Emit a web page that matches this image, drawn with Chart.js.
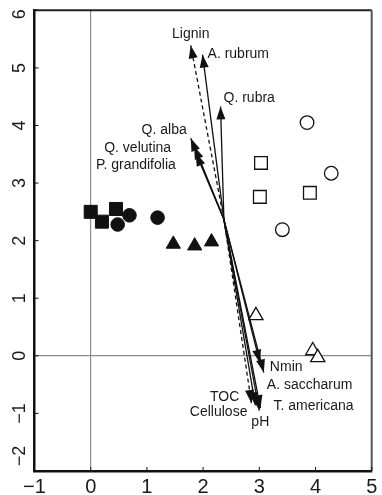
<!DOCTYPE html>
<html>
<head>
<meta charset="utf-8">
<script src="https://cdn.jsdelivr.net/npm/chart.js@4.4.1/dist/chart.umd.min.js"></script>
<style>
  html, body { margin: 0; padding: 0; background: #fff; }
  #wrap { width: 382px; height: 495px; position: relative; }
</style>
</head>
<body>
<div id="wrap"><canvas id="c"></canvas></div>
<script>
// Ordination biplot: site scores by stand type plus environmental / species vectors

// Axis ticks
const xTicks = [-1, 0, 1, 2, 3, 4, 5];
const yTicks = [-2, -1, 0, 1, 2, 3, 4, 5, 6];

// Site scores
const filledSquareX = [0.00, 0.20, 0.45];
const filledSquareY = [2.50, 2.33, 2.55];
const filledCircleX = [0.48, 0.69, 1.19];
const filledCircleY = [2.28, 2.44, 2.40];
const filledTriangleX = [1.47, 1.85, 2.15];
const filledTriangleY = [1.94, 1.91, 1.98];
const openSquareX = [3.03, 3.01, 3.90];
const openSquareY = [3.35, 2.76, 2.83];
const openCircleX = [3.85, 4.28, 3.41];
const openCircleY = [4.05, 3.17, 2.19];
const openTriangleX = [2.94, 3.95, 4.04];
const openTriangleY = [0.70, 0.09, -0.03];

// Vectors (all start from a common origin)
const vectorOrigin = [2.37, 2.37];
const vectorNames = ['Lignin', 'A. rubrum', 'Q. rubra', 'Q. alba', 'Q. velutina', 'P. grandifolia',
                     'Nmin', 'A. saccharum', 'T. americana', 'TOC', 'Cellulose', 'pH'];
const vectorX = [1.78, 1.99, 2.31, 1.78, 1.84, 1.87, 3.01, 3.08, 3.02, 2.93, 2.86, 3.00];
const vectorY = [5.39, 5.23, 4.33, 3.78, 3.64, 3.52, -0.12, -0.29, -0.91, -0.86, -0.82, -0.95];
const dashedVectors = ['Lignin', 'Cellulose'];

// Label placement relative to each arrow tip (pixels)
const labelLayout = {
  'Lignin':         { dx: 0,   dy: -11, align: 'center' },
  'A. rubrum':      { dx: 5,   dy: -1,  align: 'left' },
  'Q. rubra':       { dx: 3,   dy: -8,  align: 'left' },
  'Q. alba':        { dx: -4,  dy: -8,  align: 'right' },
  'Q. velutina':    { dx: -23, dy: 2,   align: 'right' },
  'P. grandifolia': { dx: -20, dy: 12,  align: 'right' },
  'Nmin':           { dx: 10,  dy: 4,   align: 'left' },
  'A. saccharum':   { dx: 3,   dy: 13,  align: 'left' },
  'T. americana':   { dx: 13,  dy: -2,  align: 'left' },
  'TOC':            { dx: -16, dy: -8,  align: 'right' },
  'Cellulose':      { dx: -4,  dy: 9,   align: 'right' },
  'pH':             { dx: 1,   dy: 12,  align: 'center' }
};

const FONT = '"Liberation Sans", Arial, Helvetica, sans-serif';
const INK = '#111';

function pts(xs, ys) { return xs.map((x, i) => ({ x: x, y: ys[i] })); }

function markerSet(xs, ys, style, filled, radius) {
  return {
    type: 'scatter',
    data: pts(xs, ys),
    pointStyle: style,
    pointRadius: radius,
    pointHoverRadius: radius,
    pointBackgroundColor: filled ? INK : '#fff',
    pointBorderColor: INK,
    pointBorderWidth: filled ? 1 : 1.3,
    order: 1
  };
}

const vectorSets = vectorNames.map((name, i) => ({
  type: 'line',
  label: name,
  data: [{ x: vectorOrigin[0], y: vectorOrigin[1] }, { x: vectorX[i], y: vectorY[i] }],
  borderColor: INK,
  borderWidth: 1.3,
  borderDash: dashedVectors.includes(name) ? [4, 3] : [],
  pointRadius: 0,
  fill: false,
  tension: 0,
  order: 2
}));

const biplotDecor = {
  id: 'biplotDecor',
  afterDatasetsDraw(chart) {
    const ctx = chart.ctx;
    const xs = chart.scales.x, ys = chart.scales.y;
    const ox = xs.getPixelForValue(vectorOrigin[0]);
    const oy = ys.getPixelForValue(vectorOrigin[1]);
    ctx.save();
    // arrow heads
    vectorNames.forEach((name, i) => {
      const tx = xs.getPixelForValue(vectorX[i]);
      const ty = ys.getPixelForValue(vectorY[i]);
      const a = Math.atan2(ty - oy, tx - ox);
      const len = 13, hw = 4.5;
      const bx = tx - Math.cos(a) * len, by = ty - Math.sin(a) * len;
      ctx.beginPath();
      ctx.moveTo(tx, ty);
      ctx.lineTo(bx + Math.sin(a) * hw, by - Math.cos(a) * hw);
      ctx.lineTo(bx - Math.sin(a) * hw, by + Math.cos(a) * hw);
      ctx.closePath();
      ctx.fillStyle = INK;
      ctx.fill();
    });
    // vector labels
    ctx.font = '14px ' + FONT;
    ctx.fillStyle = '#1a1a1a';
    ctx.textBaseline = 'middle';
    vectorNames.forEach((name, i) => {
      const L = labelLayout[name];
      const tx = xs.getPixelForValue(vectorX[i]);
      const ty = ys.getPixelForValue(vectorY[i]);
      ctx.textAlign = L.align;
      ctx.fillText(name, tx + L.dx, ty + L.dy);
    });
    ctx.restore();
  },
  afterDraw(chart) {
    const ctx = chart.ctx;
    const area = chart.chartArea;
    const xs = chart.scales.x, ys = chart.scales.y;
    ctx.save();
    // top and right frame
    ctx.strokeStyle = '#222';
    ctx.lineWidth = 2;
    ctx.beginPath();
    ctx.moveTo(area.left, area.top);
    ctx.lineTo(area.right, area.top);
    ctx.stroke();
    ctx.strokeStyle = '#555';
    ctx.beginPath();
    ctx.moveTo(area.right, area.top);
    ctx.lineTo(area.right, area.bottom);
    ctx.stroke();
    // inward tick marks
    ctx.strokeStyle = INK;
    ctx.lineWidth = 1;
    xTicks.forEach(v => {
      const px = xs.getPixelForValue(v);
      ctx.beginPath();
      ctx.moveTo(px, area.bottom);
      ctx.lineTo(px, area.bottom - 4);
      ctx.stroke();
    });
    yTicks.forEach(v => {
      const py = ys.getPixelForValue(v);
      ctx.beginPath();
      ctx.moveTo(area.left, py);
      ctx.lineTo(area.left + 4, py);
      ctx.stroke();
    });
    // tick labels
    ctx.fillStyle = '#1a1a1a';
    ctx.font = '20px ' + FONT;
    ctx.textAlign = 'center';
    ctx.textBaseline = 'alphabetic';
    xTicks.forEach(v => {
      const px = xs.getPixelForValue(v);
      ctx.fillText(String(v).replace('-', '\u2212'), px, 493);
    });
    ctx.font = '18px ' + FONT;
    yTicks.forEach(v => {
      let py = ys.getPixelForValue(v);
      py = Math.min(Math.max(py, area.top + 4), area.bottom - 15);
      ctx.save();
      ctx.translate(25, py);
      ctx.rotate(-Math.PI / 2);
      ctx.fillText(String(v).replace('-', '\u2212'), 0, 0);
      ctx.restore();
    });
    ctx.restore();
  }
};

const zeroGrid = (c) => (c.tick && c.tick.value === 0) ? '#8c8c8c' : 'rgba(0,0,0,0)';

new Chart(document.getElementById('c'), {
  type: 'scatter',
  data: {
    datasets: [
      markerSet(filledSquareX, filledSquareY, 'rect', true, 9.2),
      markerSet(filledCircleX, filledCircleY, 'circle', true, 6.8),
      markerSet(filledTriangleX, filledTriangleY, 'triangle', true, 8.2),
      markerSet(openSquareX, openSquareY, 'rect', false, 9.0),
      markerSet(openCircleX, openCircleY, 'circle', false, 6.8),
      markerSet(openTriangleX, openTriangleY, 'triangle', false, 8.2)
    ].concat(vectorSets)
  },
  options: {
    responsive: true,
    maintainAspectRatio: false,
    animation: false,
    layout: { padding: { top: 8.5, right: 1.5, bottom: 0, left: 0 } },
    plugins: { legend: { display: false }, tooltip: { enabled: false } },
    scales: {
      x: {
        type: 'linear', min: -1, max: 5,
        ticks: { stepSize: 1, display: false },
        grid: { color: zeroGrid, lineWidth: 1.2, drawTicks: false },
        border: { display: true, color: INK, width: 2.5 },
        afterFit(s) { s.height = 24; }
      },
      y: {
        type: 'linear', min: -2, max: 6,
        ticks: { stepSize: 1, display: false },
        grid: { color: zeroGrid, lineWidth: 1.2, drawTicks: false },
        border: { display: true, color: INK, width: 2.5 },
        afterFit(s) { s.width = 34.5; }
      }
    }
  },
  plugins: [biplotDecor]
});
</script>
</body>
</html>
